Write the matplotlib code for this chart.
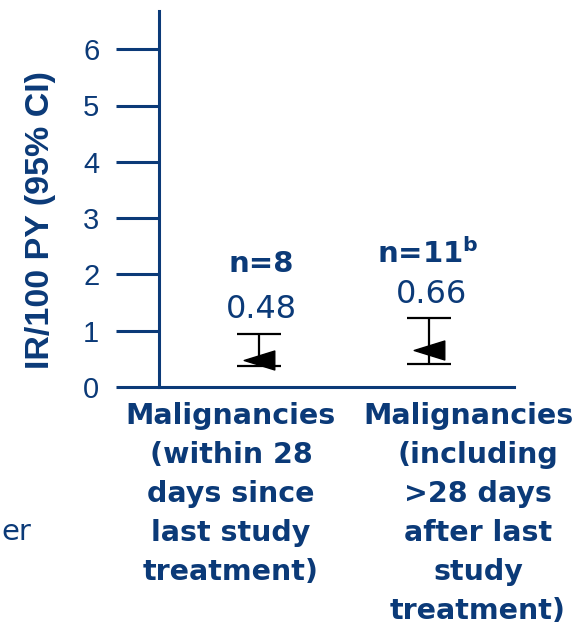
import matplotlib.pyplot as plt
from matplotlib.path import Path

# data
categories = [
    "Malignancies\n(within 28\ndays since\nlast study\ntreatment)",
    "Malignancies\n(including\n>28 days\nafter last\nstudy\ntreatment)",
]
n_labels = ["n=8", r"n=11$^{\mathbf{b}}$"]
rates = [0.48, 0.66]
ci_low = [0.37, 0.41]
ci_high = [0.94, 1.22]
y_ticks = [0, 1, 2, 3, 4, 5, 6]

blue = "#0b3a78"
xpos = [1, 2]
px = 1 / 170  # one pixel in x data units

fig = plt.figure(figsize=(5.78, 6.26), dpi=100)
# axes box placed to match the slide (pixels / figure size)
ax = fig.add_axes([159 / 578, 1 - 387 / 626, (514 - 159) / 578, (387 - 11) / 626])

ax.set_xlim(1 - 100 * px, 2 + 85 * px)
ax.set_ylim(0, 376 / 56.3)

# left pointing, flattened triangle as marker
tri = Path([(-1, 0), (1, 0.62), (1, -0.62), (-1, 0)],
           [Path.MOVETO, Path.LINETO, Path.LINETO, Path.CLOSEPOLY])

err = [[r - lo for r, lo in zip(rates, ci_low)],
       [hi - r for r, hi in zip(rates, ci_high)]]
ax.errorbar(xpos, rates, yerr=err, fmt="none", ecolor="black",
            elinewidth=1.6, capsize=15.5, capthick=1.6, zorder=2)
ax.plot(xpos, rates, linestyle="none", marker=tri, markersize=22,
        color="black", zorder=3)

# n and rate labels above each point
n_y = [2.04, 2.20]
n_dx = [2 * px, -1 * px]
v_y = [1.23, 1.49]
for x, n, r, ny, dx, vy in zip(xpos, n_labels, rates, n_y, n_dx, v_y):
    ax.text(x + dx, ny, n, ha="center", va="baseline", fontsize=21,
            fontweight="bold", color=blue, family="DejaVu Sans")
    ax.text(x + 2 * px, vy, f"{r:.2f}", ha="center", va="baseline", fontsize=23,
            color=blue, family="DejaVu Sans")

# category labels under the axis, one line at a time
label_x = [1 - 28 * px, 2 + 49 * px]
first_shift = [0, -10 * px]
line_step = 39 / 376  # 39 px per line, in axes fraction
for x, shift, lab in zip(label_x, first_shift, categories):
    for i, line in enumerate(lab.split("\n")):
        ax.text(x + (shift if i == 0 else 0), -0.04 - i * line_step, line,
                transform=ax.get_xaxis_transform(), ha="center", va="top",
                fontsize=20.5, fontweight="bold", color=blue,
                family="DejaVu Sans")

for side in ["top", "right"]:
    ax.spines[side].set_visible(False)
for side in ["left", "bottom"]:
    ax.spines[side].set_color(blue)
    ax.spines[side].set_linewidth(2.2)

ax.set_xticks([])
ax.set_yticks(y_ticks)
ax.set_yticklabels([str(t) for t in y_ticks], fontsize=21, color=blue,
                   family="Liberation Sans")
ax.tick_params(axis="y", direction="out", length=31, width=2.2, color=blue, pad=12)

ax.set_ylabel("IR/100 PY (95% CI)", fontsize=24.5, fontweight="bold", color=blue,
              family="Liberation Sans")
# label anchor is its right edge (rotated), centred vertically
ax.yaxis.set_label_coords(-(159 - 56) / 355, (387 - 220) / 376)

# leftover text from the neighbouring slide panel
fig.text(31 / 578, 1 - 540 / 626, "er", ha="right", va="baseline", fontsize=21,
         color=blue, family="DejaVu Sans")

fig.savefig("out.png", dpi=100)
